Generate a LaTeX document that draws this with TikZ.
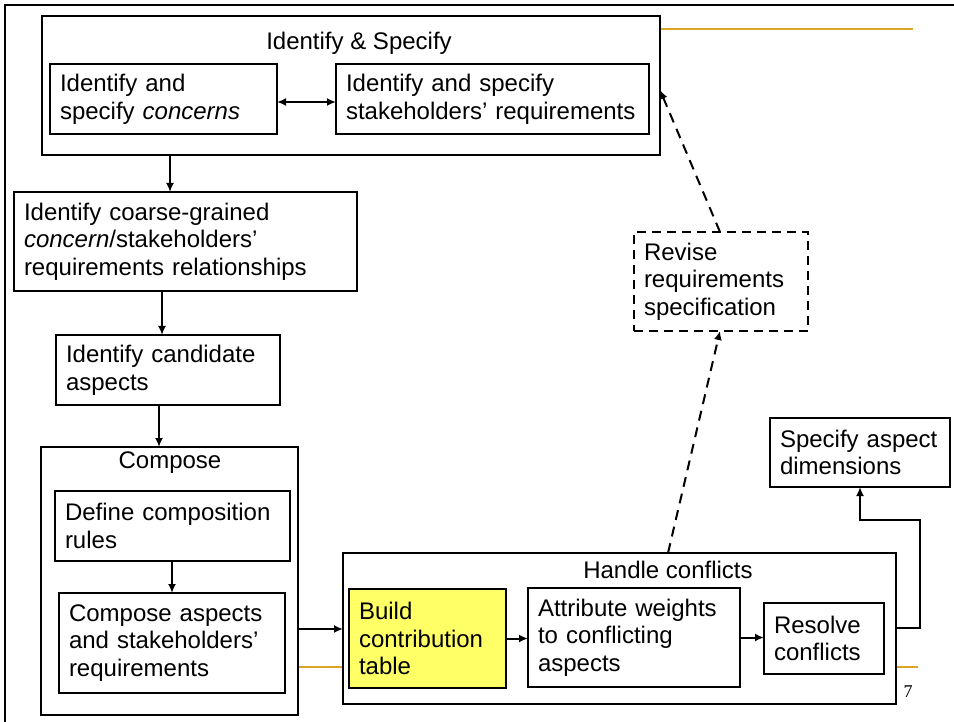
\documentclass[tikz,border=0pt]{standalone}
\usepackage{fontspec}
\setmainfont{Liberation Sans}
\newfontfamily\pagenumfont{Liberation Serif}
\usetikzlibrary{arrows.meta, positioning}

\definecolor{slidegold}{RGB}{218,165,32}
\definecolor{tableyellow}{RGB}{255,255,102}

\tikzset{
  stepbox/.style={draw, line width=2.5pt, fill=white, align=left, inner xsep=10pt, inner ysep=0pt, outer sep=0pt, anchor=north west},
  groupbox/.style={draw, line width=2.5pt, fill=white, inner sep=0pt, outer sep=0pt, anchor=north west},
  flow/.style={line width=2pt, -{Latex[length=9pt,width=8pt]}},
  flowboth/.style={line width=2pt, {Latex[length=9pt,width=8pt]}-{Latex[length=9pt,width=8pt]}},
  feedback/.style={flow, dash pattern=on 10pt off 7pt},
}

\begin{document}
\begin{tikzpicture}[x=1pt, y=-1pt, font=\fontsize{24}{27.6}\selectfont]
\useasboundingbox (0,0) rectangle (954,722);
% slide frame and template lines
\draw[line width=2.5pt] (5,722) -- (5,5) -- (954,5);
\draw[slidegold, line width=2pt] (660,29) -- (913,29);
\draw[slidegold, line width=2pt] (100,667) -- (918,667);

% identify & specify
\node[groupbox, minimum width=618pt, minimum height=139pt] (idspec) at (42,16) {};
\node (idspectitle) at (359,43) {Identify \& Specify};
\node[stepbox, minimum width=227pt, text width=207pt, minimum height=70pt] (concerns) at (50,64) {Identify and\\specify \textit{concerns}};
\node[stepbox, minimum width=313pt, text width=293pt, minimum height=70pt] (stakereq) at (336,64) {Identify and specify\\stakeholders' requirements};

\node[stepbox, minimum width=343pt, text width=323pt, minimum height=99pt] (coarse) at (14,192) {Identify coarse-grained\\\textit{concern}/stakeholders'\\requirements relationships};
\node[stepbox, minimum width=224pt, text width=204pt, minimum height=70pt] (candidate) at (56,335) {Identify candidate\\aspects};

% compose
\node[groupbox, minimum width=257pt, minimum height=268pt] (compose) at (41,447) {};
\node (composetitle) at (170,463) {Compose};
\node[stepbox, minimum width=235pt, text width=215pt, minimum height=70pt] (rules) at (55,491) {Define composition\\rules};
\node[stepbox, minimum width=226pt, text width=206pt, minimum height=100pt] (composeasp) at (59,593) {Compose aspects\\and stakeholders'\\requirements};

% handle conflicts
\node[groupbox, minimum width=553pt, minimum height=151pt] (handle) at (343,553) {};
\node (handletitle) at (668,570) {Handle conflicts};
\node[stepbox, fill=tableyellow, minimum width=157pt, text width=137pt, minimum height=99pt] (build) at (349,589) {Build\\contribution\\table};
\node[stepbox, minimum width=212pt, text width=192pt, minimum height=99pt] (weights) at (528,588) {Attribute weights\\to conflicting\\aspects};
\node[stepbox, minimum width=120pt, text width=100pt, minimum height=71pt] (resolve) at (764,603) {Resolve\\conflicts};

\node[stepbox, minimum width=180pt, text width=160pt, minimum height=69pt] (dimensions) at (770,418) {Specify aspect\\dimensions};
\node[stepbox, dash pattern=on 9pt off 6pt, minimum width=174pt, text width=154pt, minimum height=99pt] (revise) at (634,232) {Revise\\requirements\\specification};

\node[font=\pagenumfont\fontsize{18}{20}\selectfont] (pagenum) at (908,692) {7};

% connectors
\draw[flowboth] ([yshift=-38pt]concerns.north east) -- ([yshift=-38pt]stakereq.north west);
\draw[flow] ([xshift=128pt]idspec.south west) -- ([xshift=156pt]coarse.north west);
\draw[flow] ([xshift=148pt]coarse.south west) -- ([xshift=106pt]candidate.north west);
\draw[flow] ([xshift=103pt]candidate.south west) -- ([xshift=118pt]compose.north west);
\draw[flow] ([xshift=117pt]rules.south west) -- ([xshift=113pt]composeasp.north west);
\draw[flow] ([yshift=-182pt]compose.north east) -- ([yshift=-76pt]handle.north west);
\draw[flow] (build.east) -- (build.east -| weights.west);
\draw[flow] (weights.east) -- (weights.east -| resolve.west);
\draw[flow] ([yshift=-75pt]handle.north east) -- ++(24,0) -- ++(0,-108) -| (dimensions.south);
\draw[feedback] ([xshift=325pt]handle.north west) -- ([xshift=86pt]revise.south west);
\draw[feedback] ([xshift=86pt]revise.north west) -- ([yshift=-74pt]idspec.north east);
\end{tikzpicture}
\end{document}
